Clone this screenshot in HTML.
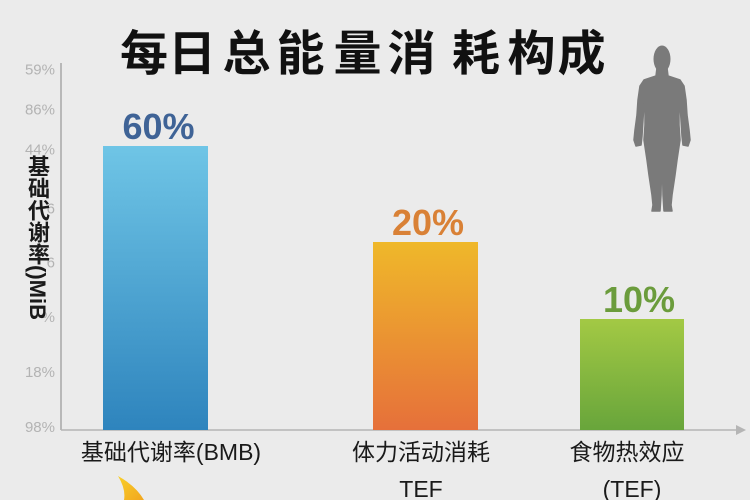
<!DOCTYPE html>
<html><head><meta charset="utf-8">
<style>
html,body{margin:0;padding:0;background:#ebebeb;}
svg{display:block;}
.ylab{position:absolute;left:26px;top:155px;writing-mode:vertical-rl;text-orientation:mixed;font-family:"Liberation Sans","Noto Sans CJK SC",sans-serif;font-size:22px;font-weight:bold;color:#1a1a1a;line-height:22px;}
</style></head>
<body>
<div style="position:relative;width:750px;height:500px;overflow:hidden;background:#ebebeb;">
<svg width="750" height="500" viewBox="0 0 750 500" xmlns="http://www.w3.org/2000/svg">
<defs>
<linearGradient id="gb" x1="0" y1="0" x2="0" y2="1"><stop offset="0" stop-color="#6fc5e6"/><stop offset="1" stop-color="#2e84bd"/></linearGradient>
<linearGradient id="go" x1="0" y1="0" x2="0" y2="1"><stop offset="0" stop-color="#efb82a"/><stop offset="1" stop-color="#e6703a"/></linearGradient>
<linearGradient id="gg" x1="0" y1="0" x2="0" y2="1"><stop offset="0" stop-color="#a3c944"/><stop offset="1" stop-color="#68a53b"/></linearGradient>
<linearGradient id="gf" x1="0" y1="0" x2="1" y2="1"><stop offset="0" stop-color="#f8cf2a"/><stop offset="1" stop-color="#f2a61e"/></linearGradient>
</defs>
<g font-family="'Liberation Sans','Noto Sans CJK SC',sans-serif" font-weight="bold" font-size="48" fill="#111" text-anchor="middle">
<text x="144" y="70">每</text><text x="192" y="70">日</text><text x="246.5" y="70">总</text><text x="300.5" y="70">能</text><text x="357.5" y="70">量</text><text x="411.5" y="70">消</text><text x="476" y="70">耗</text><text x="531.5" y="70">构</text><text x="581.5" y="70">成</text>
</g>
<g font-family="'Liberation Sans',sans-serif" font-size="15" fill="#b3b3b3" text-anchor="end">
<text x="55" y="74.5">59%</text><text x="55" y="114.5">86%</text><text x="55" y="154.5">44%</text><text x="55" y="213.5">6</text><text x="55" y="267.5">6</text><text x="55" y="322">%</text><text x="55" y="377">18%</text><text x="55" y="432">98%</text>
</g>
<line x1="61" y1="63" x2="61" y2="430" stroke="#a8a8a8" stroke-width="1.5"/>
<line x1="61" y1="430" x2="738" y2="430" stroke="#b5b5b5" stroke-width="1.5"/>
<polygon points="736,425 746,430 736,435" fill="#b5b5b5"/>
<rect x="103" y="146" width="105" height="284" fill="url(#gb)"/>
<rect x="373" y="242" width="105" height="188" fill="url(#go)"/>
<rect x="580" y="319" width="104" height="111" fill="url(#gg)"/>
<g font-family="'Liberation Sans',sans-serif" font-weight="bold" font-size="36" text-anchor="middle">
<text x="158.5" y="139" fill="#3f6396">60%</text>
<text x="428" y="235" fill="#d98136">20%</text>
<text x="639" y="312" fill="#6b9c3c">10%</text>
</g>
<g font-family="'Liberation Sans','Noto Sans CJK SC',sans-serif" font-size="23" fill="#1a1a1a" text-anchor="middle">
<text x="171" y="460">基础代谢率(BMB)</text>
<text x="421" y="460">体力活动消耗</text>
<text x="421" y="497">TEF</text>
<text x="627" y="460">食物热效应</text>
<text x="632" y="497">(TEF)</text>
</g>
<path d="M118,476 Q136,486 144,500 L124,500 Q126,489 118,476 Z" fill="url(#gf)"/>
<g fill="#7a7a7a">
<ellipse cx="662" cy="59" rx="8.5" ry="13.5"/>
<path d="M662,150 L663,195 L664,211 L672,211 L671,205 L672,195 L675,175 L677,160 L680,140 L679,125 L679,112 L680,104 L681,120 L682,136 L683,145 L688,146 L690,140 L689,130 L687,115 L686,100 L684,86 L680,80 L668,76 L667,68 L657,68 L656,76 L644,80 L640,86 L638,100 L637,115 L635,130 L634,140 L636,146 L641,145 L642,136 L643,120 L644,104 L645,112 L645,125 L644,140 L647,160 L649,175 L652,195 L653,205 L652,211 L660,211 L661,195 Z" stroke="#7a7a7a" stroke-width="1.5" stroke-linejoin="round"/>
</g>
</svg>
<div class="ylab">基础代谢率()MiB</div>
</div>
</body></html>
